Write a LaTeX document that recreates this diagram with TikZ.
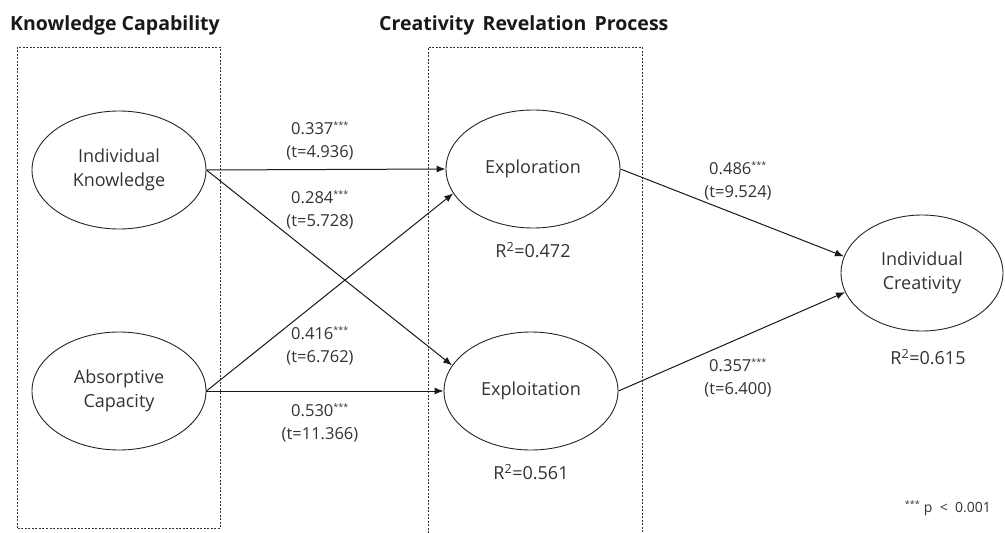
\documentclass[tikz,border=0pt]{standalone}
\usepackage{fontspec}
\setmainfont{Open Sans}
\usetikzlibrary{arrows.meta}
\newcommand{\stars}{\textsuperscript{\fontsize{9}{9}\selectfont ***}}
\tikzset{
  lat/.style={draw=black!85, line width=0.9pt, ellipse, minimum width=174pt, minimum height=118pt, inner sep=0pt, align=center, font=\fontsize{18}{24}\selectfont, text=black!80},
  coef/.style={align=center, font=\fontsize{16.5}{23}\selectfont, text=black!80, inner sep=0pt},
  rsq/.style={font=\fontsize{18}{22}\selectfont, text=black!80, inner sep=0pt},
  path/.style={draw=black!90, line width=1pt, -{Latex[length=9pt,width=7pt]}},
  grp/.style={draw=black!80, line width=0.7pt, dash pattern=on 2pt off 1.5pt},
  ttl/.style={font=\fontsize{19.5}{22}\selectfont\bfseries, text=black!90, inner sep=0pt, anchor=west}
}
\usetikzlibrary{shapes.geometric}
\begin{document}
\begin{tikzpicture}[x=1pt,y=-1pt]
\useasboundingbox[fill=white] (0,0) rectangle (1005,533);
% group boxes
\draw[grp] (17,528) -- (17,47) -- (220,47) -- (220,528) -- cycle;
\draw[grp] (428,540) -- (428,47) -- (642,47) -- (642,540);
% titles
\node[ttl] (t1) at (10,25) {Knowledge Capability};
\node[ttl] (t2) at (379,25) {Creativity\, Revelation\, Process};
% latent variables
\node[lat] (ik) at (119,170) {Individual\\Knowledge};
\node[lat] (ac) at (119,391) {Absorptive\\Capacity};
\node[lat] (er) at (533,169) {Exploration};
\node[lat] (ei) at (531,391) {Exploitation};
\node[lat, minimum width=162pt, minimum height=116pt] (ic) at (922,273) {Individual\\Creativity};
% paths
\draw[path] (ik.east) -- (er.west);
\draw[path] (ik.east) -- (ei.162);
\draw[path] (ac.east) -- (er.197);
\draw[path] (ac.east) -- (ei.west);
\draw[path] (er.east) -- (ic.168);
\draw[path] (ei.east) -- (ic.194);
% coefficients
\node[coef] (c1) at (320,141) {0.337\stars\\(t=4.936)};
\node[coef] (c2) at (320,210) {0.284\stars\\(t=5.728)};
\node[coef] (c3) at (320,346) {0.416\stars\\(t=6.762)};
\node[coef] (c4) at (320,423) {0.530\stars\\(t=11.366)};
\node[coef] (c5) at (738,181) {0.486\stars\\(t=9.524)};
\node[coef] (c6) at (738,378) {0.357\stars\\(t=6.400)};
% R squared
\node[rsq] (r1) at (533,250) {R\textsuperscript{2}=0.472};
\node[rsq] (r2) at (531,472) {R\textsuperscript{2}=0.561};
\node[rsq] (r3) at (928,357) {R\textsuperscript{2}=0.615};
% note
\node[anchor=east, font=\fontsize{14}{16}\selectfont, text=black!80, inner sep=0pt] (note) at (991,508) {\stars\ p\ \ <\ \ 0.001};
\end{tikzpicture}
\end{document}
